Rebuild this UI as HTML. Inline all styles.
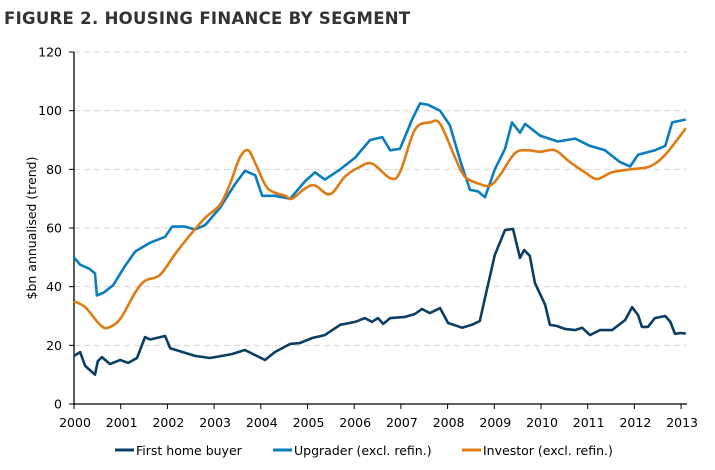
<!DOCTYPE html>
<html><head><meta charset="utf-8"><style>
body{margin:0;background:#fff;width:715px;height:466px;overflow:hidden;font-family:"DejaVu Sans","Liberation Sans",sans-serif}
</style></head><body>
<svg id="chart" width="715" height="466" viewBox="0 0 715 466" xmlns="http://www.w3.org/2000/svg">
<text x="4" y="24" font-size="16.5" font-weight="bold" fill="#333" font-family="DejaVu Sans, sans-serif" letter-spacing="0.3">FIGURE 2. HOUSING FINANCE BY SEGMENT</text>
<text transform="translate(36,228) rotate(-90)" text-anchor="middle" font-size="12.5" fill="#000">$bn annualised (trend)</text>
<g id="grid"></g><g id="axes"></g><g id="series"></g>
<g font-size="12.5" fill="#000">
<line x1="115" y1="450" x2="134" y2="450" stroke="#0b3e62" stroke-width="3"/>
<text x="136" y="455">First home buyer</text>
<line x1="273" y1="450" x2="292" y2="450" stroke="#0a7dc0" stroke-width="3"/>
<text x="294" y="455">Upgrader (excl. refin.)</text>
<line x1="462" y1="450" x2="481" y2="450" stroke="#e07b12" stroke-width="3"/>
<text x="483" y="455">Investor (excl. refin.)</text>
</g>
</svg>
<script>
const yTicks=[0,20,40,60,80,100,120];
const xTicks=[2000,2001,2002,2003,2004,2005,2006,2007,2008,2009,2010,2011,2012,2013];
const upT=[0,.13,.34,.45,.49,.64,.84,1.09,1.31,1.63,1.95,2.10,2.38,2.59,2.81,3.13,3.45,3.66,3.88,4.03,4.30,4.63,4.95,5.16,5.37,5.70,6.02,6.34,6.60,6.77,6.98,7.24,7.41,7.58,7.84,8.05,8.27,8.48,8.65,8.80,9.01,9.23,9.38,9.55,9.66,9.98,10.36,10.73,11.05,11.37,11.69,11.91,12.08,12.44,12.66,12.81,13.10];
const upV=[50,47.5,46,44.5,37,38,40.5,47,52,55,57,60.5,60.5,59.5,61,67,75,79.5,78,71,71,70,76,79,76.5,80,84,90,91,86.5,87,97,102.5,102,100,95,83,73,72.5,70.5,80,87,96,92.5,95.5,91.5,89.5,90.5,88,86.5,82.5,81,85,86.5,88,96,97];
const invT=[0,.24,.56,.73,.99,1.31,1.52,1.84,2.16,2.48,2.81,3.13,3.34,3.55,3.73,3.90,4.15,4.52,4.67,4.95,5.16,5.48,5.80,6.08,6.38,6.77,6.98,7.30,7.62,7.84,8.16,8.37,8.69,8.91,9.12,9.44,9.72,9.98,10.30,10.62,10.94,11.20,11.52,11.91,12.33,12.66,13.10];
const invV=[35,33,27,26,29,38,42,44,51,57.5,63.5,68,75,84,86.5,81.5,73.5,71,70,73.5,74.5,71.5,77.5,80.5,82,77,79,93.5,96,95.5,84,77.5,75,74.5,78,85.5,86.5,86,86.5,82.5,79,76.7,79,80,81,85,94];
const fhbT=[0,.13,.24,.45,.51,.60,.77,.99,1.16,1.35,1.52,1.63,1.95,2.06,2.27,2.59,2.91,3.38,3.66,4.09,4.30,4.63,4.84,5.10,5.37,5.70,6.02,6.23,6.38,6.51,6.62,6.77,7.09,7.30,7.45,7.62,7.84,8.01,8.31,8.52,8.69,8.84,9.01,9.23,9.40,9.55,9.64,9.76,9.87,10.09,10.19,10.34,10.51,10.73,10.88,11.05,11.26,11.52,11.80,11.95,12.08,12.16,12.29,12.44,12.66,12.77,12.87,12.98,13.10];
const fhbV=[16.4,17.7,13,10,14.6,16,13.6,15,14,15.7,22.8,22,23.2,19,18,16.4,15.7,17,18.4,15,17.7,20.5,20.8,22.5,23.5,27,28,29.3,28,29.3,27.3,29.3,29.7,30.7,32.4,31,32.7,27.6,26,27,28.3,38.9,50.8,59.3,59.7,49.8,52.5,50.5,41.3,33.8,27,26.6,25.6,25.2,26,23.5,25.2,25.2,28.6,33,30.3,26.3,26.3,29.3,30,28,23.9,24.2,24];
const NS='http://www.w3.org/2000/svg';
const X=t=>74+t*46.7, Y=v=>404-v*2.933;
function mk(tag,attrs,parent){const e=document.createElementNS(NS,tag);for(const k in attrs)e.setAttribute(k,attrs[k]);document.getElementById(parent).appendChild(e);return e;}
yTicks.forEach(v=>{
  if(v>0){const g=mk('line',{x1:74,x2:687,y1:Y(v),y2:Y(v),stroke:'#d4d4d4','stroke-dasharray':'6,4'},'grid');
  
  }
  const tk=mk('line',{x1:69,x2:74,y1:Y(v),y2:Y(v),stroke:'#000'},'axes');
  
  
  const t=mk('text',{x:62,y:Y(v)+4.5,'text-anchor':'end','font-size':12.5},'axes');t.textContent=v;
  
  
});
xTicks.forEach(yr=>{
  const x=X(yr-2000);
  const tk=mk('line',{x1:x,x2:x,y1:404,y2:409,stroke:'#000'},'axes');
  
  
  const t=mk('text',{x:x+1,y:427,'text-anchor':'middle','font-size':12.5},'axes');t.textContent=yr;
  
  
});
const ya=mk('line',{x1:74,x2:74,y1:52,y2:405,stroke:'#000','stroke-width':1.3},'axes');


const xa=mk('line',{x1:73,x2:687,y1:404,y2:404,stroke:'#000','stroke-width':1.3},'axes');


function poly(T,V){return T.map((t,i)=>(i?'L':'M')+X(t).toFixed(1)+','+Y(V[i]).toFixed(1)).join('');}
function smooth(T,V){const p=T.map((t,i)=>[X(t),Y(V[i])]);let d='M'+p[0][0]+','+p[0][1];
  for(let i=0;i<p.length-1;i++){const p0=p[Math.max(0,i-1)],p1=p[i],p2=p[i+1],p3=p[Math.min(p.length-1,i+2)];
  d+='C'+(p1[0]+(p2[0]-p0[0])/6)+','+(p1[1]+(p2[1]-p0[1])/6)+' '+(p2[0]-(p3[0]-p1[0])/6)+','+(p2[1]-(p3[1]-p1[1])/6)+' '+p2[0]+','+p2[1];}return d;}
const s1=mk('path',{d:poly(upT,upV),fill:'none',stroke:'#0a7dc0','stroke-width':2.6,'stroke-linejoin':'round'},'series');


const s2=mk('path',{d:smooth(invT,invV),fill:'none',stroke:'#e07b12','stroke-width':2.6,'stroke-linejoin':'round'},'series');


const s3=mk('path',{d:poly(fhbT,fhbV),fill:'none',stroke:'#0b3e62','stroke-width':2.6,'stroke-linejoin':'round'},'series');


</script>
</body></html>
